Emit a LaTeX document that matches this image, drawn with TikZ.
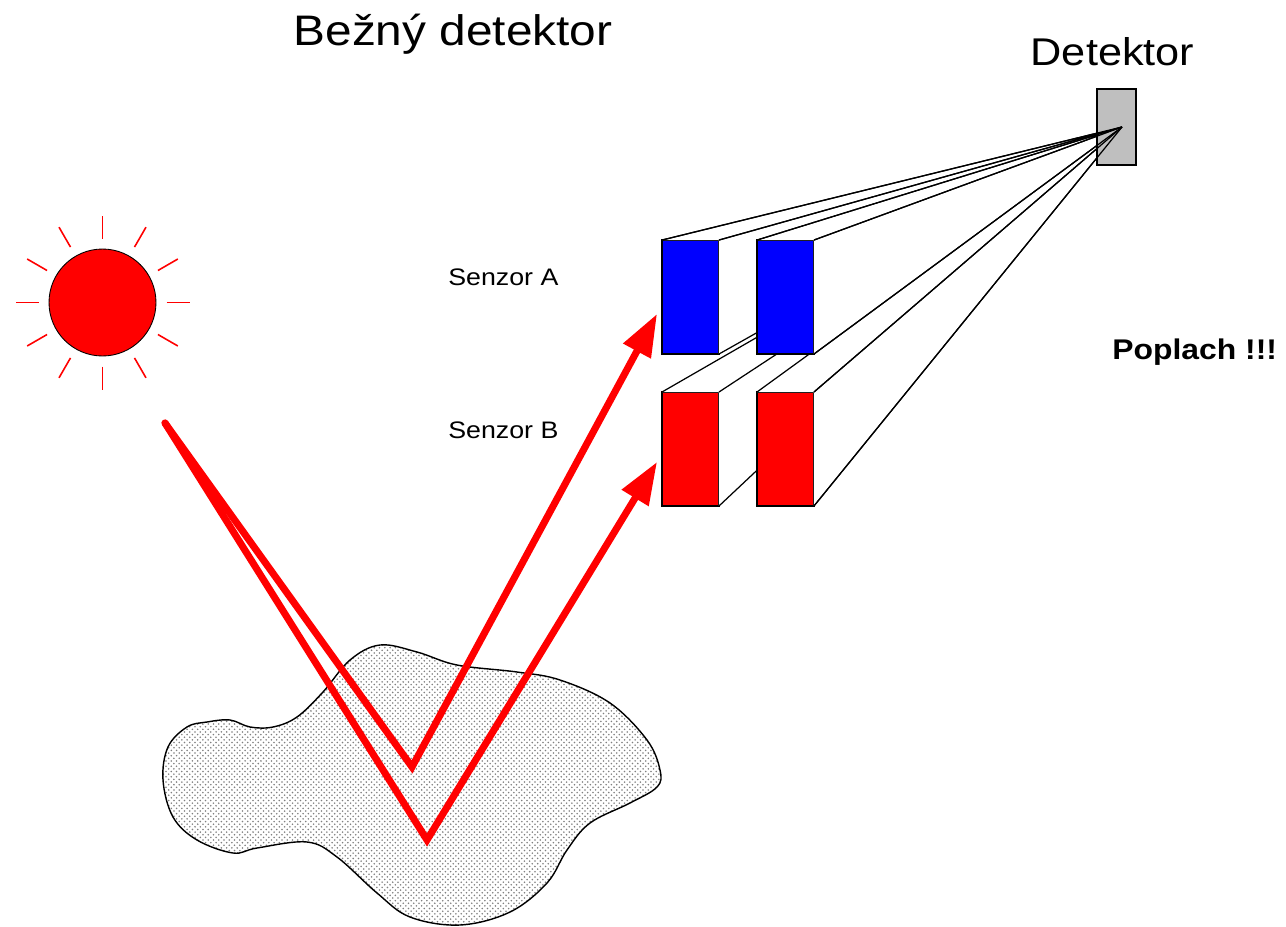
\documentclass[tikz,border=0pt]{standalone}
\usepackage{fontspec}
\setmainfont{Liberation Sans}[FakeStretch=1.12]
\usetikzlibrary{arrows.meta, positioning, patterns}

\newcommand{\extrude}[1]{%
	\fill[white] (#1.north west) -- (focus) -- (#1.south east) -- (#1.north east) -- cycle;
	\draw[rim] (#1.north west) -- (focus) (#1.north east) -- (focus) (#1.south east) -- (focus);}

\begin{document}
\begin{tikzpicture}[x=0.02cm, y=-0.02cm, node distance=0.76cm,
	sensor/.style={rectangle, draw, line width=0.8pt, inner sep=0pt, outer sep=0pt, minimum width=1.14cm, minimum height=2.28cm},
	rim/.style={line width=0.7pt},
	beam/.style={red, line width=4pt, line cap=round},
	sunray/.style={red, line width=0.9pt},
	caption/.style={inner sep=0pt, anchor=base west, font=\fontsize{13.6}{16}\selectfont}]
	\useasboundingbox (0,0) rectangle (1286,927);

	\node[font=\fontsize{24.3}{28}\selectfont, anchor=base] (title) at (453,45) {Bežný detektor};
	\coordinate (focus) at (1122,127);

	% sun
	\node[circle, draw, fill=red, line width=0.5pt, minimum size=2.14cm] (sun) at (102.5,302.5) {};
	\foreach \a in {0,30,...,330}
		\draw[sunray] (sun.center) ++(\a:64) -- ++(\a:23);

	% ground
	\draw[line width=0.8pt, pattern=crosshatch dots, pattern color=black!50] plot[smooth cycle, tension=0.6] coordinates {
		(230,720) (250,727) (273,727) (297,717) (323,692) (350,660) (380,645) (417,652)
		(457,665) (517,672) (560,680) (610,703) (647,740) (660,770) (657,787) (630,803)
		(590,823) (567,850) (547,883) (510,912) (460,925) (410,917) (377,893) (337,857)
		(307,842) (257,848) (233,853) (197,840) (173,817) (163,780) (168,747) (187,727) (207,722)};

	% sensors
	\node[sensor, fill=red] (B1) at (690.5,449) {};
	\extrude{B1}
	\node[sensor, fill=red, right=of B1] (B2) {};
	\extrude{B2}
	\node[sensor, fill=blue, above=of B1] (A1) {};
	\extrude{A1}
	\node[sensor, fill=blue, right=of A1] (A2) {};
	\extrude{A2}

	\node[draw, fill=black!25, line width=0.8pt, inner sep=0pt, minimum width=0.78cm, minimum height=1.52cm] (det) at (1116.5,127) {};
	\foreach \c in {A1.north west, A1.north east, A2.north west, A2.north east, A2.south east, B2.north east, B2.south east}
		\draw[rim] (\c) -- (focus);

	\node[font=\fontsize{22}{26}\selectfont, anchor=base] (detlabel) at (1112.5,65.7) {Detektor};
	\node[caption] (labA) at (448,285) {Senzor A};
	\node[caption] (labB) at (448,438) {Senzor B};
	\node[caption, font=\bfseries\fontsize{16.2}{19}\selectfont] (alarm) at (1112,359) {Poplach !!!};

	% reflected light
	\coordinate (glint) at (165,423);
	\coordinate (hitA) at (412,767);
	\coordinate (hitB) at (427,840);
	\coordinate (tipA) at (657,314);
	\coordinate (tipB) at (657,462);
	\draw[beam, -{Triangle[length=24pt, width=17pt]}] (glint) -- (hitA) -- (tipA);
	\draw[beam, -{Triangle[length=24pt, width=17pt]}] (glint) -- (hitB) -- (tipB);
\end{tikzpicture}
\end{document}
